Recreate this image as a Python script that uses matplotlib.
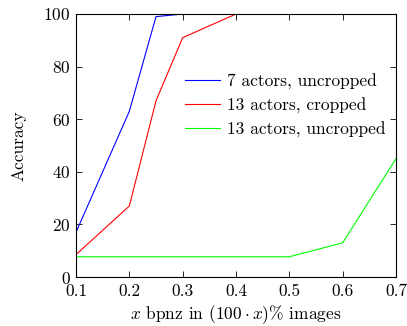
import matplotlib
matplotlib.use("Agg")
import matplotlib.pyplot as plt

plt.rcParams["font.family"] = "cmr10"
plt.rcParams["mathtext.fontset"] = "cm"
plt.rcParams["axes.formatter.use_mathtext"] = True
plt.rcParams["font.size"] = 12.5

# bpnz values and accuracy per setup
x_7_uncropped = [0.1, 0.2, 0.25, 0.3, 0.4, 0.5, 0.6, 0.7]
acc_7_uncropped = [17, 63, 99, 100, 100, 100, 100, 100]

x_13_cropped = [0.1, 0.2, 0.25, 0.3, 0.4, 0.5, 0.6, 0.7]
acc_13_cropped = [8.5, 27, 67, 91, 100, 100, 100, 100]

x_13_uncropped = [0.1, 0.2, 0.3, 0.4, 0.5, 0.6, 0.7]
acc_13_uncropped = [7.7, 7.7, 7.7, 7.7, 7.7, 13, 45]

fig = plt.figure(figsize=(4.07, 3.26), dpi=100)
ax = fig.add_axes([76 / 407, 1 - 277 / 326, 320 / 407, 263 / 326])

ax.plot(x_7_uncropped, acc_7_uncropped, color="#0000ff", lw=0.8,
        label="7 actors, uncropped")
ax.plot(x_13_cropped, acc_13_cropped, color="#ff0000", lw=0.8,
        label="13 actors, cropped")
ax.plot(x_13_uncropped, acc_13_uncropped, color="#00ff00", lw=0.8,
        label="13 actors, uncropped")

ax.set_xlim(0.1, 0.7)
ax.set_ylim(0, 100)
ax.set_xticks([0.1, 0.2, 0.3, 0.4, 0.5, 0.6, 0.7])
ax.set_xticklabels(["0.1", "0.2", "0.3", "0.4", "0.5", "0.6", "0.7"])
ax.set_yticks([0, 20, 40, 60, 80, 100])
ax.tick_params(direction="in", top=True, right=True, length=4, width=0.6)
ax.tick_params(axis="x", pad=5)
ax.tick_params(axis="y", pad=4)
for s in ax.spines.values():
    s.set_linewidth(0.8)

ax.set_xlabel(r"$x$ bpnz in $(100\cdot x)$% images", labelpad=3)
ax.set_ylabel("Accuracy", labelpad=12)

ax.legend(loc="upper left", bbox_to_anchor=(0.32, 0.80), frameon=False,
          handlelength=2.0, handletextpad=0.4, labelspacing=0.45,
          borderaxespad=0)

fig.savefig("out.png", dpi=100)
